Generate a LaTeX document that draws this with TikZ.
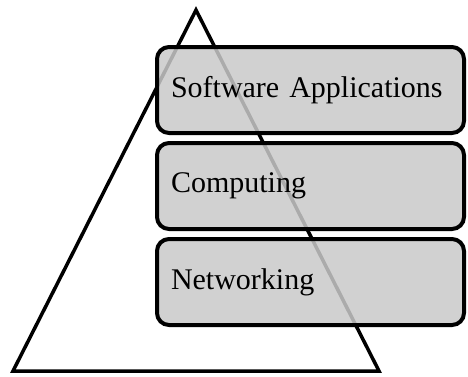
\documentclass[tikz,border=0pt]{standalone}
\usepackage{fontspec}
\setmainfont{Liberation Serif}
\begin{document}
\begin{tikzpicture}[x=1pt,y=-1pt,
  layerbox/.style={draw=black, line width=4pt, rounded corners=12pt,
    fill=black!21, fill opacity=0.85, text opacity=1,
    minimum width=307pt, minimum height=86pt,
    text width=279pt, inner xsep=14pt, align=left,
    font=\fontsize{30}{34}\selectfont}]
  \useasboundingbox (0,0) rectangle (468,376);
  % pyramid outline, drawn first so the layers sit on top of it
  \coordinate (apex) at (196,10);
  \coordinate (bl) at (13,371);
  \coordinate (br) at (379,371);
  \draw[line width=3.5pt, line join=miter] (apex) -- (br) -- (bl) -- cycle;
  % stacked layers
  \node[layerbox] (sw)  at (310.5,90)  {Software Applications};
  \node[layerbox] (cmp) at (310.5,186) {Computing};
  \node[layerbox] (net) at (310.5,282) {Networking};
\end{tikzpicture}
\end{document}
